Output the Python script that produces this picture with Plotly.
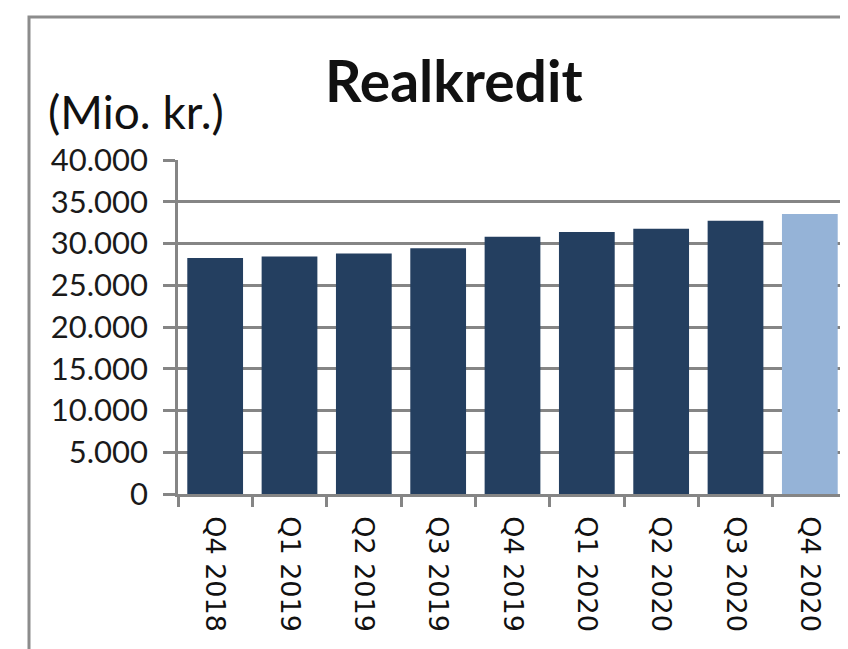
import plotly.graph_objects as go

# data (Mio. kr.)
quarters = ["Q4 2018", "Q1 2019", "Q2 2019", "Q3 2019", "Q4 2019",
            "Q1 2020", "Q2 2020", "Q3 2020", "Q4 2020"]
values = [28250, 28450, 28800, 29420, 30800, 31370, 31780, 32730, 33530]
bar_colors = ["#243F60"] * 8 + ["#95B3D7"]
y_ticks = list(range(0, 40001, 5000))

# the page body has an 8px margin, so the figure is drawn 8px in from the corner
OFF = 8
W, H = 848 - OFF, 649 - OFF
# plot area in page pixels
PLOT_L, PLOT_R, PLOT_T, PLOT_B = 178, 847, 160, 494
GRID = "#858585"


def px(x):
    return (x - PLOT_L) / (PLOT_R - PLOT_L)


def py(y):
    return (PLOT_B - y) / (PLOT_B - PLOT_T)


fig = go.Figure(
    go.Bar(
        x=quarters,
        y=values,
        marker=dict(color=bar_colors, line=dict(width=0)),
        hovertemplate="%{x}: %{y:,d}<extra></extra>",
    )
)

fig.update_layout(
    width=W,
    height=H,
    margin=dict(l=PLOT_L - OFF, r=W - (PLOT_R - OFF), t=PLOT_T - OFF, b=H - (PLOT_B - OFF)),
    paper_bgcolor="white",
    plot_bgcolor="white",
    showlegend=False,
    bargap=0.25,
    separators=",.",
    font=dict(family="Lato", color="#1a1a1a"),
    xaxis=dict(
        tickangle=90,
        tickson="boundaries",
        ticks="outside",
        ticklen=10,
        tickwidth=2.5,
        tickcolor=GRID,
        showline=True,
        linecolor=GRID,
        linewidth=2.5,
        showgrid=False,
        ticklabelstandoff=14,
        tickfont=dict(family="DejaVu Sans", size=27, color="#111"),
    ),
    yaxis=dict(
        range=[0, 40000],
        tickvals=y_ticks,
        tickformat=",d",
        ticks="outside",
        ticklen=12,
        tickwidth=2.5,
        tickcolor=GRID,
        showline=True,
        linecolor=GRID,
        linewidth=2.5,
        showgrid=True,
        gridcolor=GRID,
        gridwidth=2.5,
        zeroline=False,
        ticklabelstandoff=9,
        tickfont=dict(family="Lato", size=31, color="#1a1a1a"),
    ),
    annotations=[
        dict(text="<b>Realkredit</b>", x=px(454), y=py(80), xref="paper", yref="paper",
             xanchor="center", yanchor="middle", showarrow=False,
             font=dict(family="Lato", size=57, color="#111")),
        dict(text="(Mio. kr.)", x=px(46), y=py(111), xref="paper", yref="paper",
             xanchor="left", yanchor="middle", showarrow=False,
             font=dict(family="Lato", size=46, color="#111")),
    ],
    shapes=[
        # outer chart frame (left and top edges visible in the crop)
        dict(type="path", xref="paper", yref="paper",
             path=f"M {px(29)} {py(670)} L {px(29)} {py(17)} L {px(870)} {py(17)}",
             line=dict(color="#8c8c8c", width=3)),
    ],
)

fig.write_html("out.html")
